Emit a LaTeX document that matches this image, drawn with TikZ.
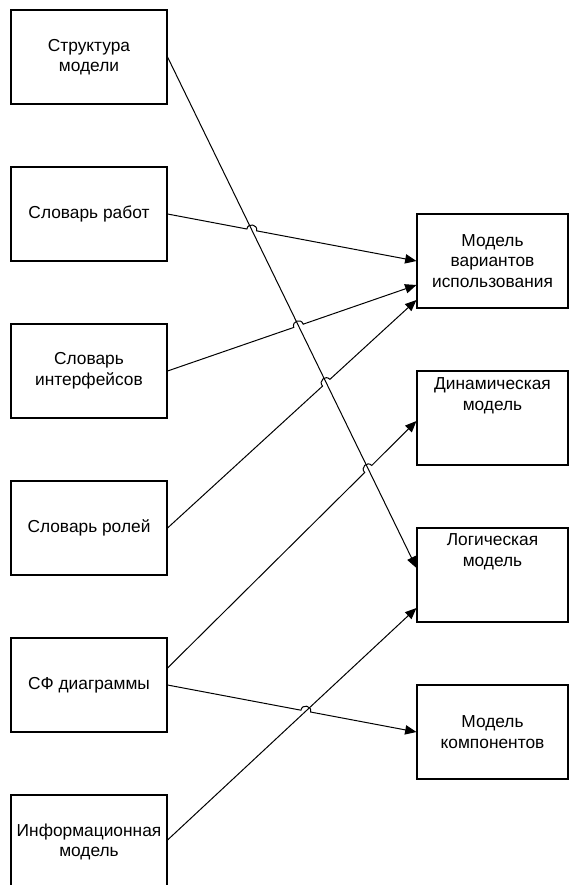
\documentclass[tikz,border=0pt]{standalone}
\usepackage{fontspec}
\setmainfont{Liberation Sans}
\usetikzlibrary{calc,arrows.meta}
\tikzset{
  boxl/.style={draw, line width=0.8pt, minimum width=117pt, minimum height=70.5pt, inner sep=0pt, align=center, font=\fontsize{13}{15.4}\selectfont},
  boxr/.style={boxl, minimum width=113.25pt},
  txt/.style={inner sep=0pt, align=center, font=\fontsize{13}{15.4}\selectfont},
  conn/.style={line width=0.75pt, -{Triangle[length=8.5pt,width=7pt]}}
}
\newcommand\hopline[3]{%
  \coordinate (#3p) at ($(#3)!3.75pt!(#1)$);
  \coordinate (#3q) at ($(#3)!3.75pt!(#2)$);
  \draw[conn] (#1) -- (#3p) .. controls ($(#3p)!5pt!90:(#3)$) and ($(#3q)!5pt!-90:(#3)$) .. (#3q) -- (#2);
}
\begin{document}
\begin{tikzpicture}[x=0.75pt,y=-0.75pt]
\useasboundingbox (0,0) rectangle (569,885);
\begin{scope}
\clip (0,0) rectangle (569,885);
\node[boxl] (s1) at (89,57) {Структура\\модели};
\node[boxl] (s2) at (89,214) {Словарь работ};
\node[boxl] (s3) at (89,371) {Словарь\\интерфейсов};
\node[boxl] (s4) at (89,528) {Словарь ролей};
\node[boxl] (s5) at (89,685) {СФ диаграммы};
\node[boxl] (s6) at (89,842) {Информационная\\модель};
\node[boxr] (r1) at (492.5,261) {Модель\\вариантов\\использования};
\node[boxr] (r2) at (492.5,418) {};
\node[txt] (r2t) at (492.5,396) {Динамическая\\модель};
\node[boxr] (r3) at (492.5,575) {};
\node[txt] (r3t) at (492.5,552) {Логическая\\модель};
\node[boxr] (r4) at (492.5,732) {Модель\\компонентов};

\coordinate (a1) at (s1.east);
\coordinate (b1) at ($(r3.west)+(0,-7)$);
\coordinate (a2) at (s2.east);
\coordinate (b2) at (r1.west);
\coordinate (a3) at (s3.east);
\coordinate (b3) at ($(r1.west)+(0,24)$);
\coordinate (a4) at (s4.east);
\coordinate (b4) at ($(r1.west)+(0,39)$);
\coordinate (a5) at ($(s5.east)+(0,-17)$);
\coordinate (b5) at ($(r2.west)+(0,3)$);
\coordinate (a6) at (s5.east);
\coordinate (b6) at (r4.west);
\coordinate (a7) at ($(s6.east)+(0,-2)$);
\coordinate (b7) at ($(r3.west)+(0,33)$);

\coordinate (i2) at (intersection of a2--b2 and a1--b1);
\coordinate (i3) at (intersection of a3--b3 and a1--b1);
\coordinate (i4) at (intersection of a4--b4 and a1--b1);
\coordinate (i5) at (intersection of a5--b5 and a1--b1);
\coordinate (i6) at (intersection of a6--b6 and a7--b7);

\draw[conn] (a1) -- (b1);
\hopline{a2}{b2}{i2}
\hopline{a3}{b3}{i3}
\hopline{a4}{b4}{i4}
\hopline{a5}{b5}{i5}
\hopline{a6}{b6}{i6}
\draw[conn] (a7) -- (b7);
\end{scope}
\end{tikzpicture}
\end{document}
